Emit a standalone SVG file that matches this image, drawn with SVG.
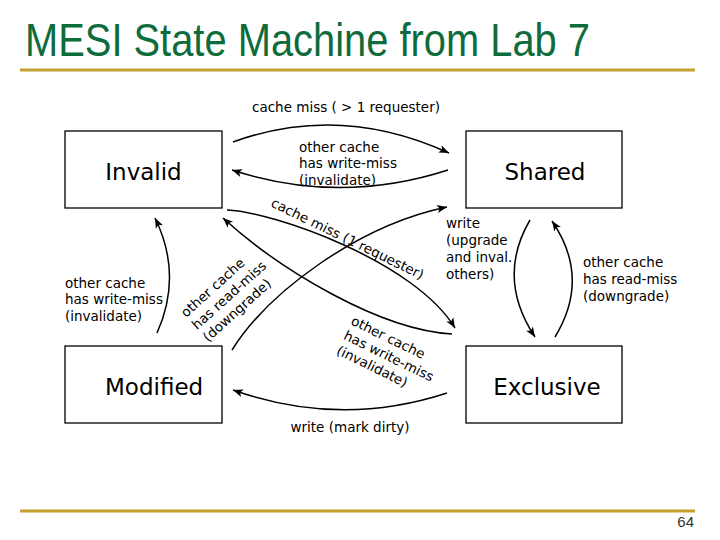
<svg xmlns="http://www.w3.org/2000/svg" width="720" height="540" viewBox="0 0 720 540">
<style>
.box{fill:#fff;stroke:#000;stroke-width:1.3}
.state{font-family:"DejaVu Sans",sans-serif;font-size:23px;fill:#000}
.lbl{font-family:"DejaVu Sans",sans-serif;font-size:13.5px;fill:#000}
.arc{fill:none;stroke:#000;stroke-width:1.5;marker-end:url(#ah)}
.rule{stroke:#C4A032;stroke-width:3}
</style>
<defs>
<marker id="ah" markerUnits="userSpaceOnUse" markerWidth="11" markerHeight="9" refX="10" refY="4" orient="auto" overflow="visible">
<path d="M0,0 L10,4 L0,8 L2.5,4 Z" fill="#000"/>
</marker>
</defs>
<rect width="720" height="540" fill="#fff"/>
<text x="25" y="56" font-family="'Liberation Sans',Arial,sans-serif" font-size="46" fill="#0E6B3B" textLength="565" lengthAdjust="spacingAndGlyphs">MESI State Machine from Lab 7</text>
<line class="rule" x1="20" y1="70" x2="695" y2="70"/>
<line class="rule" x1="20" y1="511" x2="695" y2="511"/>
<text x="694" y="527" text-anchor="end" font-family="'Liberation Sans',Arial,sans-serif" font-size="15" fill="#333">64</text>

<g id="invalid"><rect class="box" x="65" y="131" width="157" height="77"/><text class="state" x="143.5" y="180" text-anchor="middle">Invalid</text></g>
<g id="shared"><rect class="box" x="466" y="131" width="156" height="77"/><text class="state" x="545" y="180" text-anchor="middle">Shared</text></g>
<g id="modified"><rect class="box" x="65" y="346" width="157" height="77"/><text class="state" x="105" y="395">Modified</text></g>
<g id="exclusive"><rect class="box" x="466" y="346" width="156" height="77"/><text class="state" x="547" y="395" text-anchor="middle">Exclusive</text></g>

<g id="connectors">
<path class="arc" d="M233,142 Q340,103 449,153"/>
<path class="arc" d="M448,170 Q340,205 232,170"/>
<path class="arc" d="M227,210 C275,212 415,262 455,328"/>
<path class="arc" d="M452,334 C380,330 280,270 223,218"/>
<path class="arc" d="M232,350 C270,290 360,225 447,207"/>
<path class="arc" d="M157,333 Q183,275 155,218"/>
<path class="arc" d="M530,220 Q496,278 535,337"/>
<path class="arc" d="M555,337 Q591,278 552,221"/>
<path class="arc" d="M447,393 Q340,428 233,390"/>
</g>

<g id="labels">
<text class="lbl" x="346" y="112" text-anchor="middle">cache miss ( &gt; 1 requester)</text>
<text class="lbl" x="299" y="152">other cache</text>
<text class="lbl" x="299" y="168">has write-miss</text>
<text class="lbl" x="299" y="185">(invalidate)</text>
<text class="lbl" transform="translate(270,206) rotate(26)">cache miss (1 requester)</text>
<text class="lbl" transform="translate(186,318) rotate(-42)"><tspan x="0" y="0">other cache</tspan><tspan x="0" y="16.5">has read-miss</tspan><tspan x="0" y="33">(downgrade)</tspan></text>
<text class="lbl" transform="translate(350,324) rotate(26)"><tspan x="0" y="0">other cache</tspan><tspan x="0" y="16.5">has write-miss</tspan><tspan x="0" y="33">(invalidate)</tspan></text>
<text class="lbl" x="446" y="228">write</text>
<text class="lbl" x="446" y="245">(upgrade</text>
<text class="lbl" x="446" y="262">and inval.</text>
<text class="lbl" x="446" y="279">others)</text>
<text class="lbl" x="583" y="267">other cache</text>
<text class="lbl" x="583" y="284">has read-miss</text>
<text class="lbl" x="583" y="301">(downgrade)</text>
<text class="lbl" x="65" y="288">other cache</text>
<text class="lbl" x="65" y="304">has write-miss</text>
<text class="lbl" x="65" y="321">(invalidate)</text>
<text class="lbl" x="350" y="432" text-anchor="middle">write (mark dirty)</text>
</g>
</svg>
